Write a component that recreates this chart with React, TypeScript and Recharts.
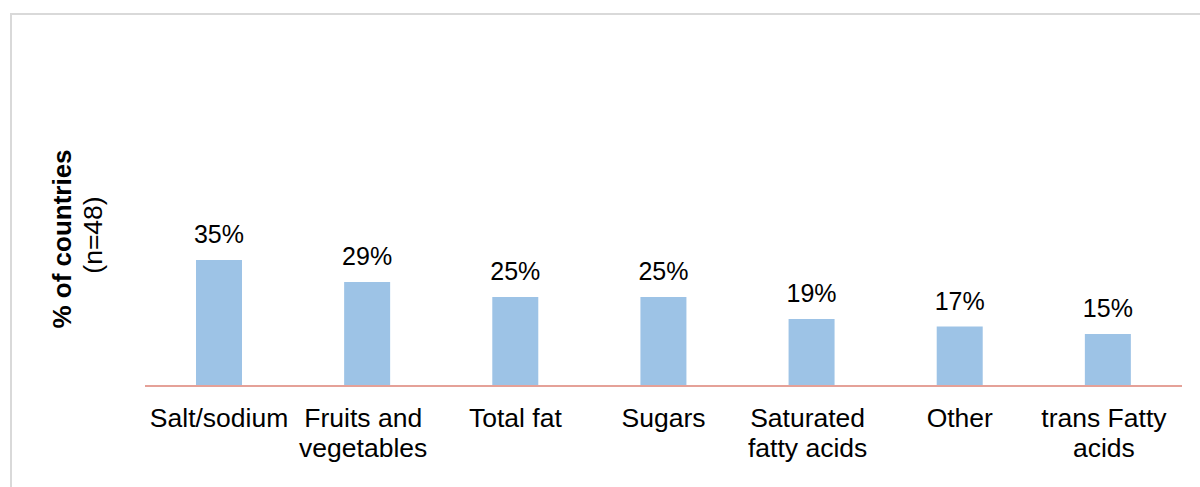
import { BarChart, Bar, XAxis, YAxis, LabelList } from "recharts";

const categories = [
  "Salt/sodium",
  "Fruits and\nvegetables",
  "Total fat",
  "Sugars",
  "Saturated\nfatty acids",
  "Other",
  "trans Fatty\nacids",
];
const shareOfCountries = [35.4, 29.2, 25.0, 25.0, 18.8, 16.7, 14.6];
const yTitle = "% of countries";
const ySubtitle = "(n=48)";

const FONT = "'Liberation Sans', Arial, sans-serif";

const data = categories.map((name, i) => ({ name, value: shareOfCountries[i] }));

function CategoryTick({ x, y, payload }: any) {
  const lines = String(payload.value).split("\n");
  // wrapped labels sit a few px left of the bar centre in the original
  const shift = lines.length > 1 ? -4 : 0;
  return (
    <text x={x + shift} y={y} textAnchor="middle" fontSize={26.5} fill="#000" fontFamily={FONT}>
      {lines.map((l, i) => (
        <tspan key={i} x={x + shift} dy={i === 0 ? 41 : 30}>
          {l}
        </tspan>
      ))}
    </text>
  );
}

function YTitle({ viewBox }: any) {
  const cy = 239;
  const x1 = viewBox.x - 45 + 71;
  const x2 = viewBox.x - 45 + 102;
  return (
    <g fontFamily={FONT} fill="#000">
      <text x={x1} y={cy} transform={`rotate(-90 ${x1} ${cy})`} textAnchor="middle" fontSize={26} fontWeight="bold">
        {yTitle}
      </text>
      <text x={x2} y={cy - 4} transform={`rotate(-90 ${x2} ${cy - 4})`} textAnchor="middle" fontSize={26.5}>
        {ySubtitle}
      </text>
    </g>
  );
}

export default function App() {
  return (
    <div style={{ position: "fixed", left: 0, top: 0, width: 1200, height: 487, overflow: "hidden", background: "#fff" }}>
      <div
        style={{
          position: "absolute",
          left: 10,
          top: 13,
          width: 1300,
          height: 600,
          border: "2px solid #D9D9D9",
          boxSizing: "border-box",
        }}
      />
      <div style={{ position: "absolute", left: 0, top: 0 }}>
        <BarChart width={1200} height={487} data={data} margin={{ top: 30, right: 18, left: 45, bottom: 11 }}>
          <XAxis
            dataKey="name"
            height={90}
            interval={0}
            tickLine={false}
            tickSize={0}
            tickMargin={0}
            axisLine={{ stroke: "#E5A198", strokeWidth: 2 }}
            tick={<CategoryTick />}
          />
          <YAxis width={100} domain={[0, 100]} axisLine={false} tickLine={false} tick={false} label={{ content: <YTitle /> } as any} />
          <Bar dataKey="value" fill="#9DC3E6" barSize={46} isAnimationActive={false}>
            <LabelList
              dataKey="value"
              position="top"
              offset={17}
              formatter={(v: any) => `${Math.round(Number(v))}%`}
              style={{ fontSize: 25, fontFamily: FONT, fill: "#000" }}
            />
          </Bar>
        </BarChart>
      </div>
    </div>
  );
}
